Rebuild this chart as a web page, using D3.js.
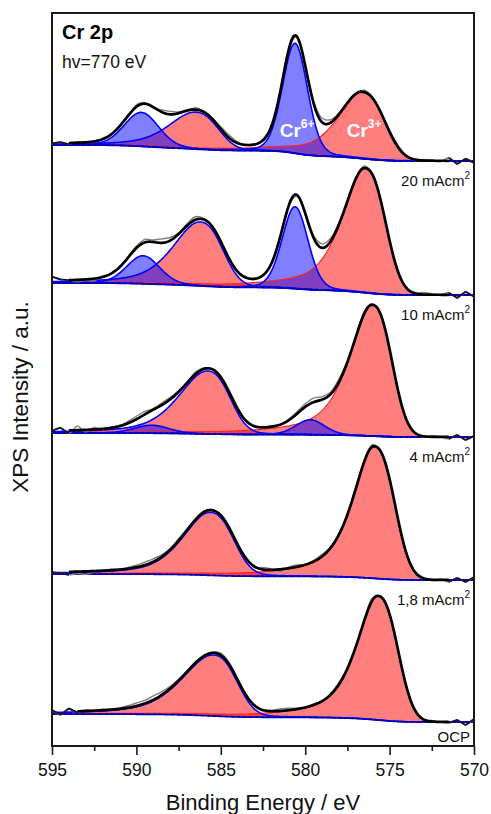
<!DOCTYPE html>
<html>
<head>
<meta charset="utf-8">
<script src="https://cdn.jsdelivr.net/npm/d3@7"></script>
<style>
  html, body { margin: 0; padding: 0; background: #fff; }
  svg { display: block; font-family: "Liberation Sans", Arial, Helvetica, sans-serif; }
</style>
</head>
<body>
<svg id="chart" width="491" height="814"></svg>
<script>
// ---- Axis ticks (binding energy, eV) ----
const majorTicks = [595, 590, 585, 580, 575, 570];
const minorTicks = [592.5, 587.5, 582.5, 577.5, 572.5];

// ---- Spectra, listed top to bottom ----
const sampleNames = ["20 mAcm", "10 mAcm", "4 mAcm", "1,8 mAcm", "OCP"];
const sampleSup   = ["2", "2", "2", "2", ""];

// Shirley background levels (stacked intensity, a.u.) on the low-BE and high-BE ends
const bgLowBE  = [585, 451, 309, 166, 24];
const bgHighBE = [601, 463, 313, 172, 32];

// Cr3+ 2p3/2 component
const cr3p32Pos    = [576.63, 576.46, 576.04, 575.92, 575.70];
const cr3p32Height = [66, 124, 131, 132, 124];
const cr3p32HwHigh = [1.70, 1.60, 1.60, 1.50, 1.50];
const cr3p32HwLow  = [1.50, 1.35, 1.30, 1.35, 1.32];

// Cr3+ 2p1/2 component
const cr3p12Pos    = [586.50, 586.23, 585.80, 585.64, 585.44];
const cr3p12Height = [37, 64, 63, 63, 61];
const cr3p12HwHigh = [1.90, 1.90, 2.00, 1.90, 2.20];
const cr3p12HwLow  = [1.50, 1.50, 1.50, 1.55, 1.55];

// Cr6+ 2p3/2 component
const cr6p32Pos    = [580.60, 580.60, 579.70, 580.00, 580.00];
const cr6p32Height = [110, 82, 15, 0, 0];
const cr6p32Hw     = [0.87, 0.90, 1.00, 1.00, 1.00];

// Cr6+ 2p1/2 component
const cr6p12Pos    = [589.70, 589.60, 589.10, 589.20, 589.20];
const cr6p12Height = [34, 28, 8, 0, 0];
const cr6p12Hw     = [1.20, 1.15, 1.20, 1.20, 1.20];

// Line-shape mixing: Lorentzian share on the high-BE / low-BE flank, Gaussian exponent on the low-BE flank
const cr3p32Shape = { lorHigh: 0.70, lorLow: 0.00, powLow: 2.4 };
const cr3p12Shape = { lorHigh: 0.50, lorLow: 0.10, powLow: 2.5 };
const cr6Shape    = { lorHigh: 0.15, lorLow: 0.15, powLow: 2.0 };

// Fit window (eV) for each spectrum
const fitHighBE = [594, 594, 594, 594, 593.5];
const fitLowBE  = [571.5, 571.5, 571.5, 571.5, 571.5];

// Measured counts minus fit, every 0.5 eV from 595 eV down to 570 eV
const residual20  = [0,1,-1,1,0,-1,1,0,1,-1,2,1,-1,2,3,1,-1,2,0,1,2,3,1,0,-1,1,0,-1,1,0,-2,2,4,3,1,0,-1,2,1,-1,1,2,0,-1,1,0,-1,3,-3,2,-2];
const residual10  = [4,1,0,-2,-1,-2,1,0,-1,1,2,3,2,4,3,1,2,3,1,0,1,-1,0,1,-1,0,1,2,0,-1,1,2,4,3,1,0,1,2,1,0,-1,1,0,1,2,1,0,2,-3,3,-2];
const residual4   = [0,3,-3,4,-2,2,-1,1,0,2,3,3,1,2,2,1,0,2,1,0,1,2,2,0,-1,0,1,0,1,2,3,4,3,2,3,1,0,2,1,0,-1,0,1,0,-1,1,0,-2,2,-3,1];
const residual18  = [0,-1,-3,-2,-3,-1,0,1,0,1,2,3,3,2,1,2,1,0,1,1,0,1,0,1,-1,2,1,-2,1,2,0,1,2,1,0,1,2,1,2,0,-1,0,1,0,1,-1,1,-2,2,-2,3];
const residualOCP = [2,-3,3,-1,1,0,1,0,1,2,3,3,4,3,2,1,0,1,-1,1,2,2,1,0,1,0,1,2,2,1,0,1,0,1,2,1,0,1,2,1,0,-1,0,1,0,1,0,-1,2,-3,3];
const residuals = [residual20, residual10, residual4, residual18, residualOCP];

// ---- Layout ----
const plot = { left: 52, right: 474, top: 13, bottom: 746 };

const svg = d3.select("#chart");
const x = d3.scaleLinear().domain([595, 570]).range([plot.left, plot.right]);
const y = d3.scaleLinear().domain([0, 733]).range([plot.bottom, plot.top]);

svg.append("defs").append("clipPath").attr("id", "plotClip")
  .append("rect")
  .attr("x", plot.left).attr("y", plot.top)
  .attr("width", plot.right - plot.left).attr("height", plot.bottom - plot.top);

const g = svg.append("g").attr("clip-path", "url(#plotClip)");

// asymmetric pseudo-Voigt line shape
function lineShape(E, c, h, hwHigh, hwLow, shape) {
  if (h <= 0) return 0;
  const d = E - c;
  const high = d >= 0;
  const w = high ? hwHigh : hwLow;
  const m = high ? shape.lorHigh : shape.lorLow;
  const p = high ? 2 : shape.powLow;
  const r = Math.abs(d / w);
  const gauss = Math.exp(-Math.LN2 * Math.pow(r, p));
  const lor = 1 / (1 + r * r);
  return h * ((1 - m) * gauss + m * lor);
}

const step = 0.05;
const grid = d3.range(0, 501).map(k => +(570 + k * step).toFixed(2));
const idx = E => Math.round((E - 570) / step);

const RED_FILL = "rgba(255,0,0,0.5)";
const BLUE_FILL = "rgba(0,0,255,0.5)";

const spectra = sampleNames.map((name, s) => {
  const comps = {
    cr3p32: grid.map(E => lineShape(E, cr3p32Pos[s], cr3p32Height[s], cr3p32HwHigh[s], cr3p32HwLow[s], cr3p32Shape)),
    cr3p12: grid.map(E => lineShape(E, cr3p12Pos[s], cr3p12Height[s], cr3p12HwHigh[s], cr3p12HwLow[s], cr3p12Shape)),
    cr6p32: grid.map(E => lineShape(E, cr6p32Pos[s], cr6p32Height[s], cr6p32Hw[s], cr6p32Hw[s], cr6Shape)),
    cr6p12: grid.map(E => lineShape(E, cr6p12Pos[s], cr6p12Height[s], cr6p12Hw[s], cr6p12Hw[s], cr6Shape))
  };
  const sum = grid.map((E, k) => comps.cr3p32[k] + comps.cr3p12[k] + comps.cr6p32[k] + comps.cr6p12[k]);
  // Shirley-type background: step grows with peak area integrated from the low-BE side
  const cum = [0];
  for (let k = 1; k < grid.length; k++) cum.push(cum[k - 1] + (sum[k] + sum[k - 1]) / 2 * step);
  const total = cum[cum.length - 1] || 1;
  const bg = cum.map(c => bgLowBE[s] + (bgHighBE[s] - bgLowBE[s]) * c / total);
  const envelope = sum.map((v, k) => v + bg[k]);
  const raw = residuals[s].map((r, i) => {
    const E = 595 - 0.5 * i;
    return { E, v: envelope[idx(E)] + r };
  });
  return { name, comps, bg, envelope, raw };
});

const areaOf = (comp, bg) => d3.area()
  .x(E => x(E))
  .y0((E, k) => y(bg[k]))
  .y1((E, k) => y(bg[k] + comp[k]));
const lineOf = vals => d3.line().x(E => x(E)).y((E, k) => y(vals[k]));

spectra.forEach((sp, s) => {
  const layer = g.append("g").attr("class", "spectrum");
  const topOf = comp => comp.map((v, k) => v + sp.bg[k]);

  // Cr3+ fills (red) below the Cr6+ fills (blue)
  ["cr3p32", "cr3p12"].forEach(key => {
    layer.append("path").attr("d", areaOf(sp.comps[key], sp.bg)(grid)).attr("fill", RED_FILL);
  });
  ["cr6p32", "cr6p12"].forEach(key => {
    if (d3.max(sp.comps[key]) <= 0) return;
    layer.append("path").attr("d", areaOf(sp.comps[key], sp.bg)(grid)).attr("fill", BLUE_FILL);
  });

  // component outlines
  layer.append("path").attr("d", lineOf(topOf(sp.comps.cr3p32))(grid))
    .attr("fill", "none").attr("stroke", "#ff2020").attr("stroke-width", 1.1);
  ["cr3p12", "cr6p32", "cr6p12"].forEach(key => {
    if (d3.max(sp.comps[key]) <= 0) return;
    layer.append("path").attr("d", lineOf(topOf(sp.comps[key]))(grid))
      .attr("fill", "none").attr("stroke", "#0000ff").attr("stroke-width", 1.6);
  });

  // background
  layer.append("path").attr("d", lineOf(sp.bg)(grid))
    .attr("fill", "none").attr("stroke", "#0000ff").attr("stroke-width", 1.8);
  layer.append("path").attr("d", lineOf(sp.bg)(grid))
    .attr("fill", "none").attr("stroke", "#000").attr("stroke-width", 1)
    .attr("stroke-dasharray", "3,3");

  // measured spectrum
  const rawLine = d3.line().x(d => x(d.E)).y(d => y(d.v)).curve(d3.curveCatmullRom);
  layer.append("path").attr("d", rawLine(sp.raw))
    .attr("fill", "none").attr("stroke", "#7f7f7f").attr("stroke-width", 1.4);

  // fit envelope inside the fit window, measured data drawn dark outside it
  const inWin = grid.filter(E => E >= fitLowBE[s] - 1e-9 && E <= fitHighBE[s] + 1e-9);
  const envLine = d3.line().x(E => x(E)).y(E => y(sp.envelope[idx(E)]));
  layer.append("path").attr("d", envLine(inWin))
    .attr("fill", "none").attr("stroke", "#000").attr("stroke-width", 2.7)
    .attr("stroke-linejoin", "round");
  const leftEnd = sp.raw.filter(d => d.E >= fitHighBE[s] - 1e-9);
  const rightEnd = sp.raw.filter(d => d.E <= fitLowBE[s] + 1e-9);
  [leftEnd, rightEnd].forEach(seg => {
    layer.append("path").attr("d", d3.line().x(d => x(d.E)).y(d => y(d.v))(seg))
      .attr("fill", "none").attr("stroke", "#1a1030").attr("stroke-width", 1.8);
  });
});

// ---- Frame and axes ----
const xAxis = svg.append("g").attr("transform", `translate(0,${plot.bottom})`)
  .call(d3.axisBottom(x).tickValues(majorTicks).tickSize(9).tickPadding(8.5).tickFormat(d3.format("d")));
xAxis.select(".domain").remove();
xAxis.selectAll(".tick line").attr("stroke", "#1a1a1a").attr("stroke-width", 1.6);
xAxis.selectAll(".tick text").attr("font-size", 17.5).attr("fill", "#111")
  .style("font-family", "'Liberation Sans', Arial, sans-serif");

const xMinor = svg.append("g").attr("transform", `translate(0,${plot.bottom})`)
  .call(d3.axisBottom(x).tickValues(minorTicks).tickSize(5).tickFormat(""));
xMinor.select(".domain").remove();
xMinor.selectAll(".tick line").attr("stroke", "#1a1a1a").attr("stroke-width", 1.6);

svg.append("rect")
  .attr("x", plot.left).attr("y", plot.top)
  .attr("width", plot.right - plot.left).attr("height", plot.bottom - plot.top)
  .attr("fill", "none").attr("stroke", "#1a1a1a").attr("stroke-width", 2);

// axis titles
svg.append("text")
  .attr("x", (plot.left + plot.right) / 2).attr("y", 810)
  .attr("text-anchor", "middle").attr("font-size", 22).attr("fill", "#111")
  .text("Binding Energy / eV");

svg.append("text")
  .attr("transform", "translate(28,397) rotate(-90)")
  .attr("text-anchor", "middle").attr("font-size", 22.5).attr("fill", "#111")
  .text("XPS Intensity / a.u.");

// panel annotations
svg.append("text").attr("x", 62).attr("y", 39)
  .attr("font-size", 20).attr("font-weight", "bold").attr("fill", "#000")
  .text("Cr 2p");
svg.append("text").attr("x", 62).attr("y", 68)
  .attr("font-size", 17.5).attr("fill", "#111")
  .text("hv=770 eV");

// oxidation-state labels on the top spectrum
function ionLabel(cx, text, sup) {
  const t = svg.append("text").attr("x", cx).attr("y", y(bgLowBE[0]) - 24)
    .attr("text-anchor", "middle").attr("fill", "#fff").attr("font-weight", "bold")
    .attr("font-size", 19);
  t.append("tspan").text(text);
  t.append("tspan").attr("font-size", 12).attr("dy", -9).text(sup);
}
ionLabel(x(cr6p32Pos[0]) + 2, "Cr", "6+");
ionLabel(x(cr3p32Pos[0]) + 2, "Cr", "3+");

// sample labels under each spectrum
sampleNames.forEach((name, s) => {
  const ty = Math.min(y(bgLowBE[s]) + 25, plot.bottom - 4);
  const t = svg.append("text").attr("x", plot.right - 4).attr("y", ty)
    .attr("text-anchor", "end").attr("font-size", 15).attr("fill", "#111");
  t.append("tspan").text(name);
  if (sampleSup[s]) t.append("tspan").attr("font-size", 10).attr("dy", -7).text(sampleSup[s]);
});
</script>
</body>
</html>
